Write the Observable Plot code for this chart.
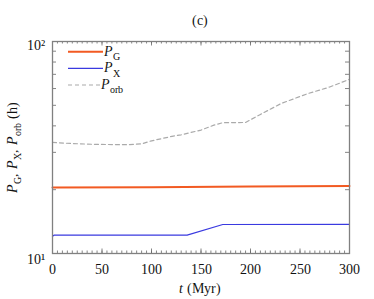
<!DOCTYPE html>
<html><head><meta charset="utf-8">
<script src="https://cdn.jsdelivr.net/npm/d3@7"></script>
<script src="https://cdn.jsdelivr.net/npm/@observablehq/plot@0.6"></script>
<style>
@font-face{font-family:"RefSerif";src:local("Liberation Serif"),local("LiberationSerif"),local("LiberationSerif-Regular"),local("DejaVu Serif");font-style:normal}
@font-face{font-family:"RefSerif";src:local("Liberation Serif Italic"),local("LiberationSerif-Italic"),local("DejaVu Serif Italic");font-style:italic}
body{margin:0;background:#fff}
svg, svg text, svg tspan{font-family:"RefSerif","Liberation Serif",serif !important}
</style>
</head><body><div id="chart"></div>
<script>
// ---- data ----
const tG = [0, 100, 200, 300];
const PG = [20.5, 20.55, 20.7, 20.8];
const tX = [0, 1.5, 136, 172, 300];
const PX = [12.05, 12.2, 12.2, 13.7, 13.72];
const tOrb = [0, 20, 45, 75, 90, 99, 110, 122, 130, 150, 163, 172, 195, 210, 231, 258, 280, 300];
const POrb = [33.4, 33.0, 32.7, 32.6, 32.9, 33.9, 34.8, 35.8, 36.3, 38.2, 40.3, 41.4, 41.5, 45.3, 51.0, 56.8, 61.0, 66.3];
const xTicks = [0, 50, 100, 150, 200, 250, 300];
const xMinor = d3.range(0, 301, 5);
const yMinor = [20, 30, 40, 50, 60, 70, 80, 90];
const yLabels = ["10\u00b9", "10\u00b2"];
const seriesNames = ["G", "X", "orb"];
const colors = ["#f25a22", "#3a3ae0", "#aaaaaa"];

const gData = tG.map((t, i) => ({t, p: PG[i]}));
const xData = tX.map((t, i) => ({t, p: PX[i]}));
const oData = tOrb.map((t, i) => ({t, p: POrb[i]}));

const W = 374, H = 299, mt = 41, mb = 46, ml = 52, mr = 25;
const fh = H - mt - mb, fw = W - ml - mr;
const tickCol = "#666";
const FONT = "RefSerif, 'Liberation Serif', serif";

const plot = Plot.plot({
  width: W, height: H,
  marginTop: mt, marginBottom: mb, marginLeft: ml, marginRight: mr,
  style: {fontFamily: FONT, fontSize: "14px", background: "#fff", color: "#111", overflow: "visible"},
  x: {domain: [0, 300]},
  y: {type: "log", domain: [10, 100]},
  marks: [
    Plot.tickX(xMinor, {x: d => d, stroke: tickCol, strokeWidth: 0.8, insetTop: fh - 2.5}),
    Plot.tickX(xMinor, {x: d => d, stroke: tickCol, strokeWidth: 0.8, insetBottom: fh - 2.5}),
    Plot.tickX(xTicks, {x: d => d, stroke: tickCol, strokeWidth: 0.8, insetTop: fh - 4.5}),
    Plot.tickX(xTicks, {x: d => d, stroke: tickCol, strokeWidth: 0.8, insetBottom: fh - 4.5}),
    Plot.tickY(yMinor, {y: d => d, stroke: tickCol, strokeWidth: 0.8, insetRight: fw - 4}),
    Plot.tickY(yMinor, {y: d => d, stroke: tickCol, strokeWidth: 0.8, insetLeft: fw - 4}),
    Plot.line(oData, {x: "t", y: "p", stroke: colors[2], strokeWidth: 1.2, strokeDasharray: "4,3"}),
    Plot.line(gData, {x: "t", y: "p", stroke: colors[0], strokeWidth: 2}),
    Plot.line(xData, {x: "t", y: "p", stroke: colors[1], strokeWidth: 1.2}),
    Plot.axisX({ticks: xTicks, tickSize: 0, tickPadding: 11, label: null, fontSize: 14, fontFamily: FONT}),
    Plot.axisY({ticks: [100], tickFormat: () => yLabels[1], tickSize: 0, tickPadding: 8, dy: 4, label: null, fontSize: 14, fontFamily: FONT}),
    Plot.axisY({ticks: [10], tickFormat: () => yLabels[0], tickSize: 0, tickPadding: 8, dy: 6, label: null, fontSize: 14, fontFamily: FONT}),
    Plot.frame({stroke: "#808080", strokeWidth: 1.3})
  ]
});
document.getElementById("chart").appendChild(plot);

// ---- rich text (italic P, subscripts) ----
const svg = d3.select(plot);
function rich(g, parts, size) {
  const text = g.append("text").attr("font-size", size).attr("fill", "#111").attr("font-family", FONT);
  let shift = 0;
  parts.forEach(p => {
    const ts = text.append("tspan").text(p.t);
    if (p.i) ts.attr("font-style", "italic");
    const target = p.sub ? size * 0.3 : 0;
    if (target !== shift) { ts.attr("dy", target - shift); shift = target; }
    if (p.sub) ts.attr("font-size", size * 0.72);
  });
  return text;
}

svg.append("text").attr("x", 200).attr("y", 25).attr("text-anchor", "middle")
  .attr("font-size", 14).attr("font-family", FONT).attr("fill", "#111").text("(c)");

rich(svg.append("g"), [{t: "t", i: true}, {t: " (Myr)"}], 14)
  .attr("x", 200).attr("y", 293).attr("text-anchor", "middle");

rich(svg.append("g").attr("transform", "translate(17,147) rotate(-90)"),
  [{t: "P", i: true}, {t: "G", sub: true}, {t: ", "}, {t: "P", i: true}, {t: "X", sub: true},
   {t: ", "}, {t: "P", i: true}, {t: "orb", sub: true}, {t: " (h)"}], 14)
  .attr("x", 0).attr("y", 0).attr("text-anchor", "middle");

const legY = [51.7, 68.3, 85];
const legStyles = [{w: 2, d: null}, {w: 1.2, d: null}, {w: 1.2, d: "4,3"}];
seriesNames.forEach((n, i) => {
  const g = svg.append("g");
  const ln = g.append("line").attr("x1", 68).attr("x2", 103).attr("y1", legY[i]).attr("y2", legY[i])
    .attr("stroke", colors[i]).attr("stroke-width", legStyles[i].w);
  if (legStyles[i].d) ln.attr("stroke-dasharray", legStyles[i].d);
  rich(g, [{t: "P", i: true}, {t: n, sub: true}], 14).attr("x", 112).attr("y", legY[i] + 4);
});
</script>
</body></html>
